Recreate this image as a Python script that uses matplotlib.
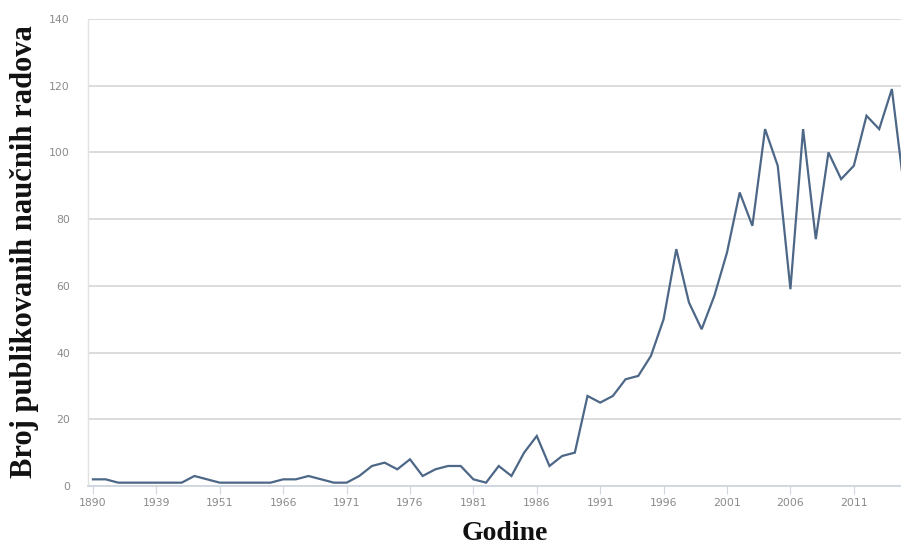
import matplotlib
matplotlib.use("Agg")
import matplotlib.pyplot as plt

years = [1890, 1910, 1925, 1930, 1935,
         1939, 1941, 1944, 1947, 1949,
         1951, 1954, 1957, 1960, 1963,
         1966, 1967, 1968, 1969, 1970] + list(range(1971, 2016))
values = [2, 2, 1, 1, 1, 1, 1, 1, 3, 2,
          1, 1, 1, 1, 1, 2, 2, 3, 2, 1,
          1, 3, 6, 7, 5, 8, 3, 5, 6, 6,
          2, 1, 6, 3, 10, 15, 6, 9, 10, 27,
          25, 27, 32, 33, 39, 50, 71, 55, 47, 57,
          70, 88, 78, 107, 96, 59, 107, 74, 100, 92,
          96, 111, 107, 119, 88]
y_ticks = [0, 20, 40, 60, 80, 100, 120, 140]

W, H = 901, 547
fig = plt.figure(figsize=(W / 100, H / 100), dpi=100)
ax = fig.add_axes([88 / W, (H - 486) / H, (W - 88) / W, 467 / H])

idx = list(range(len(years)))
ax.plot(idx, values, color="#4d6787", linewidth=1.6, solid_joinstyle="miter")

ax.set_ylim(0, 140)
ax.set_xlim(-0.39, 63.72)
ax.set_yticks(y_ticks)
ax.set_yticklabels([str(v) for v in y_ticks])
tick_pos = idx[::5]
ax.set_xticks(tick_pos)
ax.set_xticklabels([str(years[i]) for i in tick_pos])

ax.grid(axis="y", color="#d9d9d9", linewidth=1.3)
ax.set_axisbelow(True)
for s in ["top", "right"]:
    ax.spines[s].set_visible(False)
ax.spines["left"].set_color("#e2e2e2")
ax.spines["left"].set_linewidth(1.0)
ax.spines["bottom"].set_color("#cfd6de")
ax.spines["bottom"].set_linewidth(1.3)
ax.tick_params(axis="y", length=0, pad=13, labelsize=7.8, labelcolor="#8a8a8a")
ax.tick_params(axis="x", length=6, width=0.8, color="#cfd6de", pad=3,
               labelsize=7.8, labelcolor="#8a8a8a")

fig.text(25 / W, 1 - 252 / H, "Broj publikovanih naučnih radova",
         rotation=90, ha="center", va="center", fontsize=22,
         fontweight="bold", family="Liberation Serif", color="#111111")
fig.text(505 / W, 1 - 533 / H, "Godine", ha="center", va="center",
         fontsize=20, fontweight="bold", family="Liberation Serif",
         color="#111111")

fig.savefig("out.png", dpi=100)
